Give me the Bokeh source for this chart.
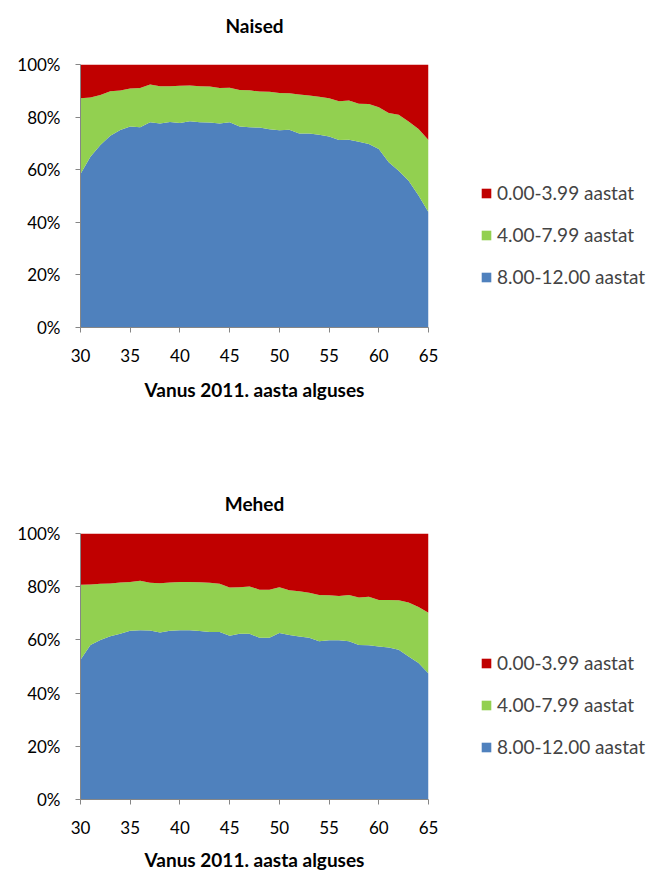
from bokeh.plotting import figure
from bokeh.models import (ColumnDataSource, Legend, LegendItem, FixedTicker, PrintfTickFormatter,
                          Range1d, LinearAxis)
from bokeh.layouts import column
from bokeh.embed import file_html
from bokeh.resources import INLINE

ages = list(range(30, 66))

# Naised (women) shares, %
naised_8_12 = [58.4, 64.9, 69.4, 72.9, 75.1, 76.4, 76.1, 78.0, 77.6, 78.1, 77.8, 78.4,
               78.0, 77.9, 77.6, 78.0, 76.4, 76.1, 76.0, 75.4, 75.0, 75.2, 73.8, 73.8,
               73.3, 72.6, 71.3, 71.4, 70.6, 69.8, 67.9, 62.8, 59.6, 55.8, 50.2, 43.8]
naised_4_8 = [28.8, 22.6, 19.0, 16.9, 15.0, 14.5, 15.0, 14.4, 14.1, 13.6, 14.1, 13.6,
              13.7, 13.7, 13.5, 13.2, 13.9, 14.1, 13.7, 14.2, 14.2, 13.9, 14.8, 14.4,
              14.4, 14.6, 14.7, 14.9, 14.5, 15.2, 15.8, 18.8, 21.3, 22.5, 25.3, 27.5]
naised_0_4 = [12.8, 12.5, 11.6, 10.2, 9.9, 9.1, 8.9, 7.6, 8.3, 8.3, 8.1, 8.0,
              8.3, 8.4, 8.9, 8.8, 9.7, 9.8, 10.3, 10.4, 10.8, 10.9, 11.4, 11.8,
              12.3, 12.8, 14.0, 13.7, 14.9, 15.0, 16.3, 18.4, 19.1, 21.7, 24.5, 28.7]

# Mehed (men) shares, %
mehed_8_12 = [52.5, 58.1, 60.0, 61.4, 62.3, 63.4, 63.6, 63.5, 62.8, 63.4, 63.6, 63.6,
              63.3, 63.0, 63.0, 61.6, 62.3, 62.3, 60.8, 60.8, 62.6, 61.8, 61.3, 60.8,
              59.5, 59.9, 59.9, 59.5, 58.1, 58.0, 57.5, 57.1, 56.3, 53.8, 51.3, 47.4]
mehed_4_8 = [28.2, 22.7, 21.1, 19.8, 19.3, 18.4, 18.6, 18.0, 18.5, 18.2, 18.2, 18.2,
             18.4, 18.5, 18.1, 18.1, 17.5, 17.8, 18.1, 18.1, 17.2, 16.9, 17.0, 16.9,
             17.4, 16.9, 16.6, 17.4, 17.8, 18.2, 17.5, 17.9, 18.6, 20.3, 21.1, 22.8]
mehed_0_4 = [19.3, 19.2, 18.9, 18.8, 18.4, 18.2, 17.8, 18.5, 18.7, 18.4, 18.2, 18.2,
             18.3, 18.5, 18.9, 20.3, 20.2, 19.9, 21.1, 21.1, 20.2, 21.3, 21.7, 22.3,
             23.1, 23.2, 23.5, 23.1, 24.1, 23.8, 25.0, 25.0, 25.1, 25.9, 27.6, 29.8]

categories = ["8.00-12.00 aastat", "4.00-7.99 aastat", "0.00-3.99 aastat"]
colors = ["#4F81BD", "#92D050", "#C00000"]
x_ticks = [30, 35, 40, 45, 50, 55, 60, 65]
y_ticks = [0, 20, 40, 60, 80, 100]

FONT = "Lato"
AXIS_COLOR = "#868686"


def make_chart(title, s_hi, s_mid, s_lo, fh, top, bottom, title_gap, legend_y, label_standoff):
    src = ColumnDataSource(dict(age=ages, hi=s_hi, mid=s_mid, lo=s_lo))
    p = figure(width=633, height=top + fh + bottom, output_backend="svg", toolbar_location=None,
               frame_width=348, frame_height=fh,
               x_range=Range1d(30, 65), y_range=Range1d(0, 100),
               min_border_left=80, min_border_right=205,
               min_border_top=top, min_border_bottom=bottom)
    rs = p.varea_stack(["hi", "mid", "lo"], x="age", source=src, color=colors)
    p.outline_line_color = None
    p.xgrid.visible = False
    p.ygrid.visible = False

    xa = p.below[0]
    ya = p.left[0]
    xa.ticker = FixedTicker(ticks=x_ticks)
    xa.axis_label = "Vanus 2011. aasta alguses"
    ya.ticker = FixedTicker(ticks=y_ticks)
    ya.formatter = PrintfTickFormatter(format="%d%%")
    for ax in (xa, ya):
        ax.axis_line_color = AXIS_COLOR
        ax.major_tick_line_color = AXIS_COLOR
        ax.minor_tick_line_color = None
        ax.major_tick_out = 5
        ax.major_tick_in = 0
        ax.major_label_text_font = FONT
        ax.major_label_text_font_size = "17px"
        ax.major_label_text_color = "#000000"
        ax.axis_label_text_font = FONT
        ax.axis_label_text_font_size = "19px"
        ax.axis_label_text_font_style = "bold"
        ax.axis_label_text_color = "#000000"
    xa.major_label_standoff = 16
    xa.axis_label_standoff = label_standoff
    ya.major_label_standoff = 15

    # chart title, drawn as the label of a bare axis above the frame
    t_ax = LinearAxis(ticker=FixedTicker(ticks=[]), axis_label=title,
                      axis_line_color=None, major_tick_line_color=None,
                      minor_tick_line_color=None, major_tick_out=0, major_tick_in=0,
                      major_label_standoff=0, major_label_text_font_size="0px",
                      axis_label_standoff=title_gap,
                      axis_label_text_font=FONT, axis_label_text_font_size="19px",
                      axis_label_text_font_style="bold", axis_label_text_color="#000000")
    p.add_layout(t_ax, "above")

    items = [LegendItem(label=categories[2], renderers=[rs[2]]),
             LegendItem(label=categories[1], renderers=[rs[1]]),
             LegendItem(label=categories[0], renderers=[rs[0]])]
    legend = Legend(items=items, location=(52, legend_y), padding=0, margin=0,
                    border_line_color=None, background_fill_alpha=0,
                    glyph_width=12, glyph_height=12, label_height=22, spacing=19,
                    label_standoff=5, label_text_font=FONT, label_text_font_size="19px")
    p.add_layout(legend, "right")
    return p


p1 = make_chart("Naised", naised_8_12, naised_4_8, naised_0_4, 263, 64, 113, 28, 39, 13)
p2 = make_chart("Mehed", mehed_8_12, mehed_4_8, mehed_0_4, 266, 93, 71, 19, 41, 11)

p = column(p1, p2, spacing=0)
open("out.html", "w").write(file_html(p, INLINE))
